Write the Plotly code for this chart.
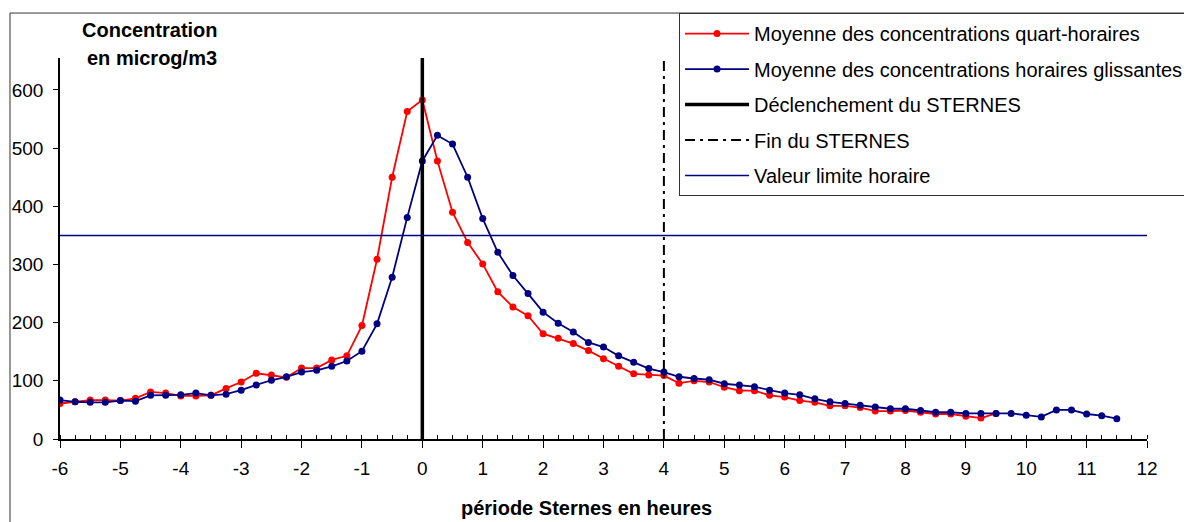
import plotly.graph_objects as go

# Data (hours relative to STERNES trigger, step 0.25 h)
quart_horaire = [61, 64, 67, 67, 66, 70, 81, 79, 74, 74, 75, 87, 98, 113, 110, 106,
                 122, 122, 136, 143, 195, 309, 450, 563, 583, 478, 390, 338, 301, 253,
                 227, 212, 181, 173, 164, 152, 138, 125, 112, 110, 109, 96, 100, 98,
                 89, 83, 83, 75, 72, 66, 63, 57, 57, 54, 48, 48, 49, 46, 43, 43, 39, 36, 44]
horaire_glissant = [67, 64, 63, 63, 66, 65, 75, 75, 76, 79, 75, 77, 84, 93, 101, 107,
                    115, 118, 125, 134, 151, 198, 278, 381, 478, 522, 507, 450, 379, 321,
                    281, 250, 218, 199, 184, 166, 158, 143, 132, 121, 115, 107, 104, 102,
                    95, 93, 90, 84, 79, 76, 69, 64, 61, 58, 55, 52, 52, 49, 46, 46, 44, 44,
                    44, 44, 41, 38, 50, 50, 43, 40, 35]
start_hour = -6
step_hour = 0.25
hours_q = [start_hour + step_hour * i for i in range(len(quart_horaire))]
hours_g = [start_hour + step_hour * i for i in range(len(horaire_glissant))]

x_tick_vals = [-6, -5, -4, -3, -2, -1, 0, 1, 2, 3, 4, 5, 6, 7, 8, 9, 10, 11, 12]
x_tick_text = ["-6", "-5", "-4", "-3", "-2", "-1", "0", "1", "2", "3", "4", "5",
               "6", "7", "8", "9", "10", "11", "12"]
y_tick_vals = [0, 100, 200, 300, 400, 500, 600]

declenchement_x = 0
fin_x = 4
valeur_limite = 350
x_min, x_max = -6, 12
y_max_line = 655

FONT = "Liberation Sans, Arial, sans-serif"

fig = go.Figure()
fig.add_trace(go.Scatter(
    x=hours_q, y=quart_horaire, mode="lines+markers",
    name="Moyenne des concentrations quart-horaires",
    line=dict(color="#FF0000", width=1.8), marker=dict(color="#FF0000", size=7),
    legendgroup="a"))
fig.add_trace(go.Scatter(
    x=hours_g, y=horaire_glissant, mode="lines+markers",
    name="Moyenne des concentrations horaires glissantes",
    line=dict(color="#000080", width=1.8), marker=dict(color="#000080", size=7),
    legendgroup="b"))
fig.add_trace(go.Scatter(
    x=[declenchement_x, declenchement_x], y=[0, y_max_line], mode="lines",
    name="Déclenchement du STERNES",
    line=dict(color="black", width=3.5), legendgroup="c"))
fig.add_trace(go.Scatter(
    x=[fin_x, fin_x], y=[0, y_max_line], mode="lines",
    name="Fin du STERNES",
    line=dict(color="black", width=2, dash="10px,5px,3px,5px"), legendgroup="d"))
fig.add_trace(go.Scatter(
    x=[x_min, x_max], y=[valeur_limite, valeur_limite], mode="lines",
    name="Valeur limite horaire",
    line=dict(color="#000080", width=1.5), legendgroup="e"))

# page body has an 8px margin -> figure is drawn 8px lower/right; compensate
fig.update_layout(
    width=1184, height=514,
    margin=dict(l=52, r=45, t=50, b=83, autoexpand=False),
    paper_bgcolor="white", plot_bgcolor="white",
    font=dict(family=FONT, size=19, color="black"),
    showlegend=True,
    legend=dict(x=0.5695, y=1.118, xanchor="left", yanchor="top",
                bgcolor="white", bordercolor="#333333", borderwidth=1,
                font=dict(family=FONT, size=20, color="black"),
                traceorder="grouped", tracegroupgap=6.5, itemwidth=64),
    xaxis=dict(range=[x_min, x_max], tickvals=x_tick_vals, ticktext=x_tick_text,
               showgrid=False, zeroline=False,
               showline=True, linecolor="black", linewidth=1.5,
               ticks="outside", ticklen=7, tickcolor="black", tickwidth=1.2,
               ticklabelstandoff=4,
               minor=dict(dtick=0.25, tick0=0, ticks="inside", ticklen=4, tickcolor="black",
                          showgrid=False),
               tickfont=dict(family=FONT, size=19)),
    yaxis=dict(range=[0, y_max_line], showgrid=False, zeroline=False,
               showline=True, linecolor="black", linewidth=1.5,
               ticks="outside", ticklen=5, tickcolor="black",
               tickvals=y_tick_vals,
               ticklabelstandoff=6,
               tickfont=dict(family=FONT, size=19)),
)

# outer chart frame
fig.add_shape(type="rect", xref="paper", yref="paper",
              x0=-0.046, x1=1.2, y0=-0.4, y1=1.118,
              line=dict(color="#333333", width=1), fillcolor="rgba(0,0,0,0)", layer="below")

fig.add_annotation(x=0.4848, y=-0.181, xref="paper", yref="paper",
                   text="<b>période Sternes en heures</b>", showarrow=False,
                   xanchor="center", yanchor="middle",
                   font=dict(family=FONT, size=20, color="black"))
fig.add_annotation(x=0.0828, y=1.0735, xref="paper", yref="paper",
                   text="<b>Concentration</b>", showarrow=False,
                   xanchor="center", yanchor="middle",
                   font=dict(family=FONT, size=20, color="black"))
fig.add_annotation(x=0.0846, y=1.0, xref="paper", yref="paper",
                   text="<b>en microg/m3</b>", showarrow=False,
                   xanchor="center", yanchor="middle",
                   font=dict(family=FONT, size=20, color="black"))

fig.write_html("out.html")
